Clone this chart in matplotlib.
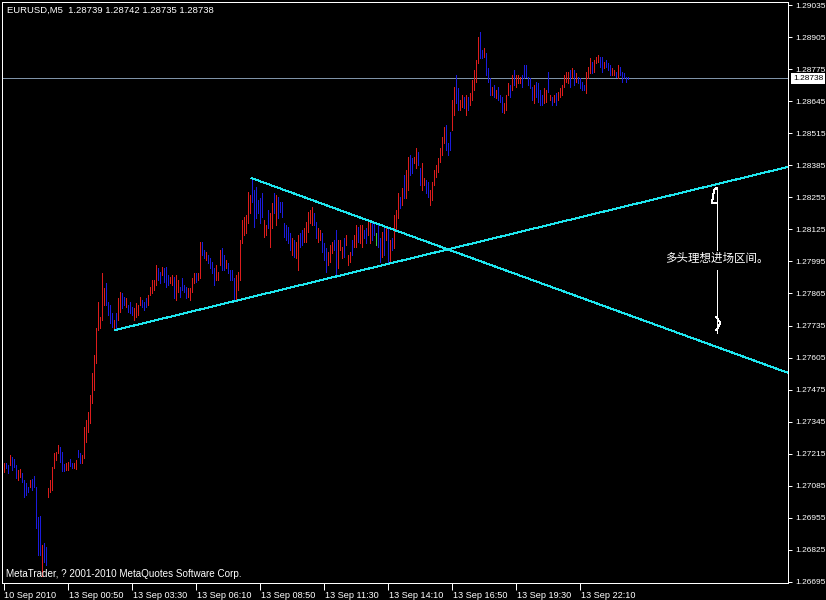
import matplotlib
matplotlib.use('Agg')
import matplotlib.pyplot as plt
from matplotlib import transforms

plt.rcParams['font.family'] = ['Liberation Sans', 'DejaVu Sans']

# ---------------- data ----------------
symbol_line = 'EURUSD,M5  1.28739 1.28742 1.28735 1.28738'
copyright_line = 'MetaTrader, ? 2001-2010 MetaQuotes Software Corp.'

highs = [
    1.27178, 1.27178, 1.27169, 1.27210, 1.27202, 1.27194, 1.27169, 1.27149, 1.27153, 1.27137,
    1.27109, 1.27096, 1.27080, 1.27109, 1.27112, 1.27125, 1.27080, 1.26958, 1.26962, 1.26845,
    1.26853, 1.26837, 1.27076, 1.27109, 1.27161, 1.27218, 1.27222, 1.27250, 1.27242, 1.27222,
    1.27173, 1.27178, 1.27181, 1.27194, 1.27178, 1.27178, 1.27189, 1.27230, 1.27218, 1.27210,
    1.27323, 1.27352, 1.27384, 1.27453, 1.27542, 1.27615, 1.27725, 1.27830, 1.27769, 1.27948,
    1.27887, 1.27907, 1.27830, 1.27818, 1.27786, 1.27757, 1.27786, 1.27846, 1.27871, 1.27867,
    1.27851, 1.27846, 1.27818, 1.27830, 1.27810, 1.27806, 1.27826, 1.27818, 1.27851, 1.27838,
    1.27830, 1.27846, 1.27859, 1.27891, 1.27919, 1.27919, 1.27980, 1.27968, 1.27952, 1.27972,
    1.27968, 1.27972, 1.27940, 1.27932, 1.27940, 1.27932, 1.27940, 1.27919, 1.27891, 1.27928,
    1.27899, 1.27891, 1.27887, 1.27887, 1.27928, 1.27948, 1.27948, 1.27948, 1.28074, 1.28074,
    1.28041, 1.28033, 1.28021, 1.28009, 1.27992, 1.27968, 1.27980, 1.27952, 1.28041, 1.28049,
    1.28021, 1.28001, 1.27988, 1.27960, 1.27960, 1.27928, 1.27940, 1.27952, 1.28082, 1.28163,
    1.28175, 1.28183, 1.28276, 1.28264, 1.28333, 1.28284, 1.28297, 1.28244, 1.28252, 1.28272,
    1.28163, 1.28143, 1.28203, 1.28191, 1.28232, 1.28272, 1.28264, 1.28256, 1.28236, 1.28236,
    1.28151, 1.28143, 1.28134, 1.28110, 1.28090, 1.28082, 1.28074, 1.28102, 1.28110, 1.28122,
    1.28130, 1.28155, 1.28195, 1.28203, 1.28215, 1.28191, 1.28155, 1.28130, 1.28122, 1.28110,
    1.28070, 1.28049, 1.28033, 1.28061, 1.28074, 1.28082, 1.28122, 1.28082, 1.28082, 1.28053,
    1.28090, 1.28102, 1.28021, 1.28033, 1.28082, 1.28102, 1.28143, 1.28134, 1.28143, 1.28143,
    1.28122, 1.28130, 1.28163, 1.28155, 1.28155, 1.28151, 1.28110, 1.28143, 1.28090, 1.28114,
    1.28134, 1.28134, 1.28130, 1.28082, 1.28090, 1.28183, 1.28203, 1.28272, 1.28256, 1.28293,
    1.28345, 1.28366, 1.28418, 1.28426, 1.28414, 1.28418, 1.28455, 1.28439, 1.28374, 1.28394,
    1.28333, 1.28325, 1.28317, 1.28284, 1.28317, 1.28366, 1.28386, 1.28414, 1.28455, 1.28499,
    1.28540, 1.28548, 1.28475, 1.28520, 1.28649, 1.28702, 1.28751, 1.28698, 1.28649, 1.28670,
    1.28662, 1.28670, 1.28662, 1.28678, 1.28731, 1.28771, 1.28812, 1.28905, 1.28925, 1.28852,
    1.28860, 1.28840, 1.28779, 1.28739, 1.28702, 1.28710, 1.28690, 1.28702, 1.28670, 1.28662,
    1.28637, 1.28670, 1.28718, 1.28710, 1.28751, 1.28771, 1.28751, 1.28751, 1.28743, 1.28751,
    1.28791, 1.28791, 1.28743, 1.28739, 1.28702, 1.28710, 1.28722, 1.28718, 1.28690, 1.28670,
    1.28698, 1.28690, 1.28763, 1.28670, 1.28662, 1.28670, 1.28678, 1.28682, 1.28698, 1.28710,
    1.28751, 1.28763, 1.28763, 1.28771, 1.28779, 1.28771, 1.28759, 1.28743, 1.28739, 1.28722,
    1.28710, 1.28763, 1.28783, 1.28820, 1.28804, 1.28812, 1.28824, 1.28832, 1.28824, 1.28824,
    1.28804, 1.28812, 1.28800, 1.28791, 1.28779, 1.28771, 1.28763, 1.28791, 1.28783, 1.28763,
    1.28759, 1.28743, 1.28742,
]

lows = [
    1.27141, 1.27157, 1.27137, 1.27169, 1.27149, 1.27161, 1.27117, 1.27109, 1.27121, 1.27100,
    1.27039, 1.27048, 1.27060, 1.27080, 1.27068, 1.27080, 1.26914, 1.26804, 1.26804, 1.26719,
    1.26776, 1.26764, 1.27039, 1.27060, 1.27068, 1.27157, 1.27189, 1.27218, 1.27181, 1.27145,
    1.27145, 1.27149, 1.27149, 1.27165, 1.27157, 1.27157, 1.27153, 1.27202, 1.27178, 1.27178,
    1.27198, 1.27262, 1.27303, 1.27340, 1.27421, 1.27473, 1.27583, 1.27717, 1.27725, 1.27757,
    1.27818, 1.27818, 1.27777, 1.27745, 1.27729, 1.27717, 1.27717, 1.27757, 1.27790, 1.27806,
    1.27818, 1.27810, 1.27790, 1.27786, 1.27777, 1.27757, 1.27769, 1.27777, 1.27818, 1.27810,
    1.27798, 1.27810, 1.27818, 1.27859, 1.27867, 1.27879, 1.27899, 1.27919, 1.27907, 1.27940,
    1.27911, 1.27891, 1.27899, 1.27907, 1.27899, 1.27846, 1.27838, 1.27871, 1.27851, 1.27879,
    1.27871, 1.27846, 1.27851, 1.27838, 1.27871, 1.27907, 1.27911, 1.27919, 1.27928, 1.28021,
    1.28009, 1.28001, 1.27988, 1.27968, 1.27948, 1.27899, 1.27919, 1.27919, 1.27980, 1.27960,
    1.27960, 1.27968, 1.27948, 1.27919, 1.27919, 1.27838, 1.27838, 1.27879, 1.27919, 1.28070,
    1.28102, 1.28110, 1.28151, 1.28191, 1.28236, 1.28134, 1.28171, 1.28191, 1.28151, 1.28175,
    1.28094, 1.28102, 1.28130, 1.28053, 1.28130, 1.28191, 1.28143, 1.28171, 1.28195, 1.28175,
    1.28094, 1.28082, 1.28070, 1.28041, 1.28021, 1.28013, 1.28009, 1.27960, 1.28053, 1.28061,
    1.28074, 1.28074, 1.28114, 1.28151, 1.28143, 1.28143, 1.28090, 1.28074, 1.28082, 1.28033,
    1.28001, 1.27952, 1.27980, 1.27992, 1.28029, 1.28041, 1.27932, 1.27968, 1.28041, 1.28009,
    1.28013, 1.28061, 1.27980, 1.27992, 1.28021, 1.28053, 1.28053, 1.28074, 1.28070, 1.28053,
    1.28090, 1.28070, 1.28102, 1.28070, 1.28082, 1.28102, 1.28061, 1.28053, 1.27992, 1.28013,
    1.28021, 1.28082, 1.27992, 1.27992, 1.28041, 1.28049, 1.28122, 1.28171, 1.28211, 1.28224,
    1.28252, 1.28252, 1.28284, 1.28345, 1.28353, 1.28394, 1.28374, 1.28386, 1.28305, 1.28284,
    1.28305, 1.28272, 1.28256, 1.28224, 1.28244, 1.28305, 1.28337, 1.28357, 1.28398, 1.28426,
    1.28475, 1.28447, 1.28426, 1.28447, 1.28528, 1.28589, 1.28637, 1.28609, 1.28609, 1.28621,
    1.28617, 1.28589, 1.28609, 1.28629, 1.28649, 1.28690, 1.28722, 1.28800, 1.28820, 1.28820,
    1.28824, 1.28751, 1.28722, 1.28670, 1.28670, 1.28662, 1.28658, 1.28649, 1.28641, 1.28601,
    1.28597, 1.28609, 1.28670, 1.28662, 1.28690, 1.28710, 1.28702, 1.28718, 1.28718, 1.28702,
    1.28739, 1.28743, 1.28710, 1.28698, 1.28649, 1.28637, 1.28662, 1.28641, 1.28629, 1.28629,
    1.28637, 1.28641, 1.28682, 1.28649, 1.28629, 1.28641, 1.28629, 1.28649, 1.28662, 1.28670,
    1.28702, 1.28722, 1.28718, 1.28702, 1.28739, 1.28710, 1.28722, 1.28718, 1.28698, 1.28690,
    1.28690, 1.28678, 1.28739, 1.28759, 1.28759, 1.28763, 1.28800, 1.28804, 1.28783, 1.28763,
    1.28779, 1.28783, 1.28771, 1.28751, 1.28751, 1.28751, 1.28743, 1.28739, 1.28751, 1.28722,
    1.28739, 1.28722, 1.28735,
]

# u = bull bar, d = bear bar, n = doji
directions = (
    "udduddduud" "dddudddddu" "dduuuuuudd" "duudduuddu" "uuuuuuuuuu"
    "udddduduud" "duddduuuud" "dduuuuuddu" "ddduuduudd" "dduuuuduud"
    "dudddduuud" "dudddduuuu" "uuuudddddd" "uuduududdd" "dddduduudd"
    "uuuuudduud" "dduuudduuu" "duuuduuduu" "dduuddnddu" "dududuuudu"
    "duudduuddu" "udduuuuuuu" "uddduudduu" "duduuuuudd" "udddududdd"
    "uuududuuud" "dddddudddd" "uudududuuu" "uuudududdd" "duuuduuudd"
    "uddduududd" "ddd"
)

price_ticks = [1.26695, 1.26825, 1.26955, 1.27085, 1.27215, 1.27345, 1.27475,
               1.27605, 1.27735, 1.27865, 1.27995, 1.28125, 1.28255, 1.28385,
               1.28515, 1.28645, 1.28775, 1.28905, 1.29035]
time_tick_bars = [0, 32, 64, 96, 128, 160, 192, 224, 256, 288]
time_tick_labels = ['10 Sep 2010', '13 Sep 00:50', '13 Sep 03:30', '13 Sep 06:10',
                    '13 Sep 08:50', '13 Sep 11:30', '13 Sep 14:10', '13 Sep 16:50',
                    '13 Sep 19:30', '13 Sep 22:10']

bid_price = 1.28738
trend_up = [(56, 1.27717), (392, 1.28378)]
trend_down = [(124, 1.28333), (392, 1.27544)]

note_text = '多头理想进场区间。'
note_pos = (330.6, 1.28009)
range_bar = 356.5
range_top, range_gap_top, range_gap_bottom, range_bottom = 1.28293, 1.28041, 1.27960, 1.27705
head_top = [(356.5, 1.28293), (355.3, 1.28285), (354.2, 1.28232), (356.5, 1.28232)]
head_bottom = [(356.5, 1.27770), (358.4, 1.27745), (356.5, 1.27717)]

# ---------------- style ----------------
bg = 'black'
fg = 'white'
bull_color = '#dc1c1c'
bear_color = '#1c1cdc'
doji_color = '#3cc83c'
trend_color = '#1ee6ee'
bid_color = '#7f93a8'
px = 0.72  # one pixel in points at 100 dpi

W, H = 826, 600
fig = plt.figure(figsize=(W / 100, H / 100), dpi=100, facecolor=bg)
ax = fig.add_axes([2 / W, 17 / H, 786 / W, 581 / H], facecolor=bg)

ax.set_xlim(-0.75, -0.75 + 786 / 2)
ax.set_ylim(1.266909, 1.290472)

cmap = {'u': bull_color, 'd': bear_color, 'n': doji_color}
xs = list(range(len(highs)))
cols = [cmap[c] for c in directions]
ax.vlines(xs, lows, highs, colors=cols, linewidth=px, antialiased=False, zorder=3)

# bid line
ax.axhline(bid_price, color=bid_color, linewidth=px, antialiased=False, zorder=2)

# trend lines extended to the right edge as rays
x_right = ax.get_xlim()[1]
for (x1, y1), (x2, y2) in (trend_up, trend_down):
    slope = (y2 - y1) / (x2 - x1)
    ax.plot([x1, x_right], [y1, y1 + slope * (x_right - x1)], color=trend_color,
            linewidth=px, antialiased=False, zorder=4, clip_on=True)

# range annotation
ax.plot([range_bar, range_bar], [range_top, range_gap_top], color=fg, linewidth=px,
        antialiased=False, zorder=5)
ax.plot([range_bar, range_bar], [range_gap_bottom, range_bottom], color=fg, linewidth=px,
        antialiased=False, zorder=5)
ax.plot([p[0] for p in head_top], [p[1] for p in head_top], color=fg, linewidth=px,
        antialiased=False, zorder=5)
ax.plot([p[0] for p in head_bottom], [p[1] for p in head_bottom], color=fg, linewidth=px,
        antialiased=False, zorder=5)
ax.text(note_pos[0], note_pos[1], note_text, color=fg, fontsize=8.3, ha='left', va='center',
        family=['Noto Sans CJK SC', 'DejaVu Sans'], zorder=6)

# spines
for s in ax.spines.values():
    s.set_color(fg)
    s.set_linewidth(px)

# y axis on right
ax.yaxis.tick_right()
ax.set_yticks(price_ticks)
ax.set_yticklabels(['%.5f' % v for v in price_ticks])
ax.tick_params(axis='y', colors=fg, length=3, width=px, pad=2.5, labelsize=6.0, direction='out',
               left=False, right=True)

# x axis
ax.set_xticks(time_tick_bars)
ax.set_xticklabels(time_tick_labels)
ax.tick_params(axis='x', colors=fg, length=5, width=px, pad=1, labelsize=6.6, direction='out')
offset = transforms.ScaledTranslation(1 / 100, 0, fig.dpi_scale_trans)
for lab in ax.get_xticklabels():
    lab.set_horizontalalignment('left')
    lab.set_transform(lab.get_transform() + offset)

# current price box on the scale
trans = transforms.blended_transform_factory(ax.transAxes, ax.transData)
ax.text(1.0 + 5 / 786, bid_price, '1.28738', transform=trans, color='black', fontsize=6.0,
        ha='left', va='center', clip_on=False, zorder=10,
        bbox=dict(boxstyle='square,pad=0.25', facecolor='white', edgecolor='none'))

# header and copyright
fig.text(7 / W, 1 - 10.5 / H, symbol_line, color=fg, fontsize=6.8, ha='left', va='center')
fig.text(6 / W, 1 - 574 / H, copyright_line, color=fg, fontsize=7.1, ha='left', va='center')

fig.savefig('out.png', dpi=100, facecolor=bg)
